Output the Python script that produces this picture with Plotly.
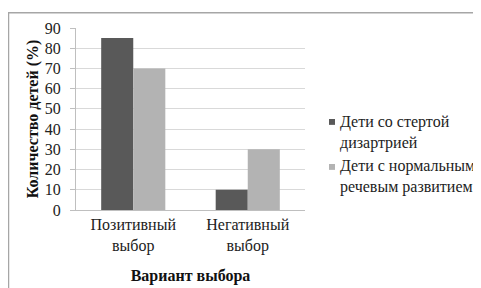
import plotly.graph_objects as go

categories = ["Позитивный<br>выбор", "Негативный<br>выбор"]
series_names = ["Дети со стертой<br>дизартрией", "Дети с нормальным<br>речевым развитием"]
dysarthria = [85, 10]
normal = [70, 30]
y_ticks = [0, 10, 20, 30, 40, 50, 60, 70, 80, 90]
colors = ["#595959", "#b3b3b3"]

W, H = 481, 288
L, R, T, B = 68, 184, 16, 86
pw, ph = W - L - R, H - T - B

font = "Liberation Serif"
fs = 16

def px(x):
    return (x - L) / pw

def py(y):
    return (H - B - y) / ph

fig = go.Figure()
for vals, name, col in [(dysarthria, series_names[0], colors[0]), (normal, series_names[1], colors[1])]:
    fig.add_trace(go.Bar(x=categories, y=vals, name=name, showlegend=False,
                         marker=dict(color=col, line=dict(width=0))))

shapes = [dict(type="rect", xref="paper", yref="paper",
               x0=px(0.5), x1=px(W - 1.5), y0=py(H - 1.5), y1=py(0.5),
               line=dict(color="#a6a6a6", width=1.5), layer="below")]
annotations = []
legend_rows = [(112, 123), (158, 168)]
for (sq_y, txt_y), name, col in zip(legend_rows, series_names, colors):
    shapes.append(dict(type="rect", xref="paper", yref="paper",
                       x0=px(321), x1=px(327), y0=py(sq_y + 3), y1=py(sq_y - 3),
                       fillcolor=col, line=dict(width=0)))
    annotations.append(dict(x=px(330), y=py(txt_y), xref="paper", yref="paper",
                            text=name, showarrow=False, xanchor="left", yanchor="middle", align="left",
                            font=dict(family=font, size=fs, color="#222")))

fig.update_layout(
    width=W, height=H,
    margin=dict(l=L, r=R, t=T, b=B),
    paper_bgcolor="white", plot_bgcolor="white",
    barmode="group", bargap=0.44, bargroupgap=0,
    showlegend=False,
    font=dict(family=font, size=fs, color="#222"),
    xaxis=dict(showline=True, linecolor="#bfbfbf", linewidth=1, ticks="", automargin=False,
               range=[-0.5, 1.5],
               tickfont=dict(family=font, size=fs, color="#222"),
               title=dict(text="<b>Вариант выбора</b>", font=dict(family=font, size=fs, color="#111"))),
    yaxis=dict(range=[0, 90], tickvals=y_ticks, showline=True, linecolor="#bfbfbf", linewidth=1,
               ticks="outside", ticklen=5, tickcolor="#bfbfbf", automargin=True,
               ticklabelstandoff=6,
               gridcolor="#d9d9d9", gridwidth=1, zeroline=False,
               tickfont=dict(family=font, size=fs, color="#222"),
               title=dict(text="<b>Количество детей (%)</b>", standoff=2,
                          font=dict(family=font, size=fs, color="#111"))),
    shapes=shapes,
    annotations=annotations,
)

fig.write_html("out.html")
